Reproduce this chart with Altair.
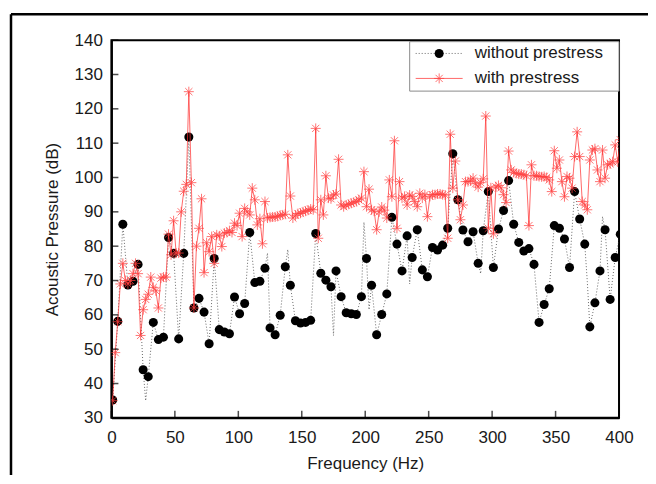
import altair as alt
import pandas as pd

# ---------------- data ----------------
# "without prestress" markers (every 4 Hz)
black_freq = list(range(1, 402, 4))
black_vals = [
    35.2, 58.1, 86.4, 68.7, 69.8, 74.7, 44.0, 42.0, 57.8, 52.8,
    53.5, 82.5, 77.9, 53.0, 77.9, 111.8, 62.0, 64.8, 60.8, 51.6,
    76.4, 55.7, 55.0, 54.5, 65.2, 60.3, 63.3, 84.0, 69.4, 69.8,
    73.6, 56.2, 54.2, 59.9, 74.0, 68.6, 58.3, 57.6, 57.8, 58.4,
    83.7, 72.1, 70.1, 68.2, 72.8, 65.3, 60.6, 60.3, 60.1, 65.3,
    76.4, 68.6, 54.2, 60.1, 66.1, 88.4, 80.6, 72.8, 83.0, 76.7,
    84.8, 73.1, 71.1, 79.6, 78.9, 80.3, 85.2, 106.9, 93.5, 84.7,
    81.3, 84.2, 75.0, 84.5, 95.9, 73.8, 85.0, 90.4, 99.1, 86.4,
    81.1, 78.6, 79.3, 74.7, 57.8, 63.0, 67.6, 86.0, 85.2, 82.1,
    73.8, 95.9, 87.9, 80.6, 56.5, 63.5, 72.8, 84.8, 64.5, 76.7, 83.5,
]
# extra points of the dotted line visible between markers
black_extra_freq = [27, 123, 139, 175, 199, 203, 235, 291, 375, 387]
black_extra_vals = [35, 78, 79, 54, 87, 61.5, 69, 72, 69.7, 88.6]

# "with prestress" (every 2 Hz)
red_freq = list(range(1, 402, 2))
red_vals = [
    35, 49, 58, 69, 75, 70, 69, 70, 72, 75,
    72, 54, 61.5, 64.5, 66, 71, 68, 67, 62, 70.7,
    71, 71, 83.5, 77.5, 87.4, 78, 78, 90, 96, 98,
    125, 98.5, 62, 80, 85.2, 93.8, 72.3, 81, 78.4, 82.8,
    75, 83.3, 83, 79.9, 83.8, 84, 84.5, 84, 86.7, 86,
    89.6, 82.8, 91, 90, 89.1, 96.9, 93.5, 86.2, 88, 80.7,
    93, 88.2, 88.4, 88.5, 88.5, 88.7, 89, 89.1, 89.3, 106.6,
    94.6, 88.2, 89, 89.5, 89.6, 90, 90.2, 90.5, 90.8, 90.6,
    114.3, 82.3, 93.5, 89.1, 100.5, 94, 93.8, 94.9, 95.2, 105.3,
    92, 91.5, 92, 92.2, 92.5, 92.8, 93, 93.5, 94, 101.7,
    91.5, 96.6, 90.6, 90.2, 84.8, 90, 91.4, 90.5, 88.2, 99.3,
    94.4, 110.7, 85.2, 98.8, 94, 94.5, 92, 94.9, 94.5, 93,
    91.5, 95.4, 94, 95, 88.6, 94.5, 95, 95, 95.2, 95.2,
    95, 94.9, 82.3, 112.6, 96.9, 104.8, 93.5, 87.7, 92, 98.8,
    98.8, 99, 99.8, 98.2, 97.2, 98.5, 99.6, 117.9, 85.2, 97,
    83.6, 97.3, 97.7, 97, 95, 92.7, 107.7, 102.2, 101.5, 101.2,
    101, 101, 100.8, 100.5, 86, 103.7, 100.5, 100.5, 100.3, 100.2,
    100.3, 100, 99.3, 95.9, 107.8, 102.7, 105.1, 98.8, 94.4, 100.3,
    99.8, 96.9, 106.1, 113.3, 106.1, 93, 92, 90.6, 105.1, 108,
    108.4, 102.2, 98.8, 108, 99.8, 103.7, 104, 104.6, 109.5, 104.5,
    111,
]

x_ticks = [0, 50, 100, 150, 200, 250, 300, 350, 400]
y_ticks = [30, 40, 50, 60, 70, 80, 90, 100, 110, 120, 130, 140]
legend_labels = ["without prestress", "with prestress"]
x_title = "Frequency (Hz)"
y_title = "Acoustic Pressure (dB)"

# ---------------- tables ----------------
black_df = pd.DataFrame({"f": black_freq, "v": black_vals})
black_line_df = pd.concat(
    [black_df, pd.DataFrame({"f": black_extra_freq, "v": black_extra_vals})]
).sort_values("f")
red_df = pd.DataFrame({"f": red_freq, "v": red_vals})
ytick_df = pd.DataFrame({"v": y_ticks})
xtick_df = pd.DataFrame({"f": x_ticks})
one = pd.DataFrame({"k": [0]})   # single row for decorations

W, H = 508, 378
FONT = "Liberation Sans"
TXT = "#1a1a1a"
star = "M-1,0L1,0M0,-1L0,1M-0.72,-0.72L0.72,0.72M-0.72,0.72L0.72,-0.72"

xs = alt.Scale(domain=[0, 400], nice=False, zero=False)
ys = alt.Scale(domain=[30, 140], nice=False, zero=False)

common_axis = dict(grid=False, ticks=False, labelFont=FONT, labelFontSize=17,
                   titleFont=FONT, titleFontSize=17, titleFontWeight="normal",
                   labelColor=TXT, titleColor=TXT, labelOverlap=False,
                   labelFlush=False, domainColor="black", domainWidth=2)
X = alt.X("f:Q", scale=xs, axis=alt.Axis(values=x_ticks, title=x_title,
          labelPadding=12, titlePadding=10, **common_axis))
Y = alt.Y("v:Q", scale=ys, axis=alt.Axis(values=y_ticks, title=y_title,
          labelPadding=9, titlePadding=13, **common_axis))

black_line = alt.Chart(black_line_df).mark_line(
    color="#444444", strokeWidth=0.8, strokeDash=[1, 2], clip=True
).encode(x=X, y=Y)
black_pts = alt.Chart(black_df).mark_circle(
    size=82, color="black", opacity=1, clip=True
).encode(x=X, y=Y)
red_line = alt.Chart(red_df).mark_line(
    color="#ff3030", strokeWidth=0.9, opacity=0.8, clip=True
).encode(x=X, y=Y)
red_pts = alt.Chart(red_df).mark_point(
    shape=star, size=100, stroke="#ff4040", strokeWidth=0.9, filled=False, opacity=0.8, clip=True
).encode(x=X, y=Y)

# inward ticks
y_tick_marks = alt.Chart(ytick_df).mark_tick(
    orient="horizontal", size=7, thickness=1.5, color="black"
).encode(y=Y, x=alt.value(3.5))
x_tick_marks = alt.Chart(xtick_df).mark_tick(
    orient="vertical", size=7, thickness=1.5, color="black"
).encode(x=X, y=alt.value(H - 3.5))

# outer frame (top and left edges visible in the picture)
frame_top = alt.Chart(one).mark_rule(color="black", strokeWidth=2.5).encode(
    x=alt.value(-100.5), x2=alt.value(560), y=alt.value(-26))
frame_left = alt.Chart(one).mark_rule(color="black", strokeWidth=2.5).encode(
    x=alt.value(-100.5), y=alt.value(-26), y2=alt.value(460))

# legend
leg_box = alt.Chart(one).mark_rect(
    fill="white", stroke="#8a8a8a", strokeWidth=1
).encode(x=alt.value(298.5), x2=alt.value(W), y=alt.value(1.5), y2=alt.value(51))
leg_l1 = alt.Chart(one).mark_rule(
    color="#444444", strokeWidth=0.8, strokeDash=[1, 2]
).encode(x=alt.value(304.5), x2=alt.value(351.5), y=alt.value(13.3))
leg_p1 = alt.Chart(one).mark_circle(size=82, color="black", opacity=1).encode(
    x=alt.value(328), y=alt.value(13.3))
leg_l2 = alt.Chart(one).mark_rule(
    color="#ff3030", strokeWidth=0.9, opacity=0.8
).encode(x=alt.value(304.5), x2=alt.value(351.5), y=alt.value(38.3))
leg_p2 = alt.Chart(one).mark_point(
    shape=star, size=100, stroke="#ff4040", strokeWidth=0.9, filled=False, opacity=0.8
).encode(x=alt.value(328), y=alt.value(38.3))
leg_t1 = alt.Chart(one).mark_text(
    align="left", baseline="middle", fontSize=17, font=FONT, color=TXT
).encode(x=alt.value(363.5), y=alt.value(13.3), text=alt.value(legend_labels[0]))
leg_t2 = alt.Chart(one).mark_text(
    align="left", baseline="middle", fontSize=17, font=FONT, color=TXT
).encode(x=alt.value(363.5), y=alt.value(38.3), text=alt.value(legend_labels[1]))

chart = alt.layer(
    black_line, black_pts, red_line, red_pts,
    y_tick_marks, x_tick_marks, frame_top, frame_left,
    leg_box, leg_l1, leg_p1, leg_l2, leg_p2, leg_t1, leg_t2,
).properties(
    width=W, height=H,
    autosize=alt.AutoSizeParams(type="none"),
    padding={"left": 103.5, "top": 32, "right": 29, "bottom": 57},
    background="white",
).configure_view(
    stroke="black", strokeWidth=2
)

chart.save("out.html", embed_options={"renderer": "svg", "actions": False})
